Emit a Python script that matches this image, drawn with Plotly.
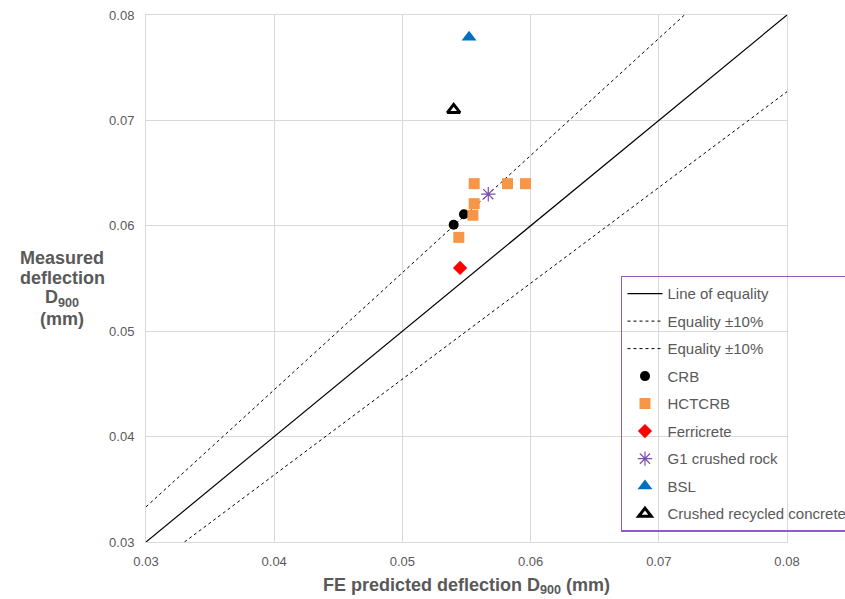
import plotly.graph_objects as go

# Measured vs FE-predicted D900 deflection (mm), grouped by base material
crb_fe = [0.0540, 0.0548]
crb_meas = [0.0601, 0.0611]

hctcrb_fe = [0.0556, 0.0582, 0.0596, 0.0556, 0.0555, 0.0544]
hctcrb_meas = [0.0640, 0.0640, 0.0640, 0.0621, 0.0610, 0.0589]

ferricrete_fe = [0.0545]
ferricrete_meas = [0.0560]

g1_fe = [0.0567]
g1_meas = [0.0630]

bsl_fe = [0.0552]
bsl_meas = [0.0779]

recycled_fe = [0.0540]
recycled_meas = [0.0710]

axis_range = [0.03, 0.08]
tolerance = 0.10

y_title_lines = ["Measured", "deflection", "D<sub>900</sub>", "(mm)"]

FONT = "Liberation Sans Narrow, Arial Narrow, Liberation Sans, Arial, sans-serif"
BOLD_FONT = "Liberation Sans, Arial, sans-serif"
GREY = "#595959"

fig = go.Figure()

# reference lines
fig.add_trace(go.Scatter(
    x=axis_range, y=axis_range, mode="lines",
    line=dict(color="black", width=1.2), name="Line of equality",
    legendgroup="g1"))
fig.add_trace(go.Scatter(
    x=axis_range, y=[v / (1 - tolerance) for v in axis_range], mode="lines",
    line=dict(color="black", width=1, dash="3px,3px"), name="Equality \u00b110%",
    legendgroup="g2"))
fig.add_trace(go.Scatter(
    x=axis_range, y=[v / (1 + tolerance) for v in axis_range], mode="lines",
    line=dict(color="black", width=1, dash="3px,3px"), name="Equality \u00b110%",
    legendgroup="g3"))

# material groups
fig.add_trace(go.Scatter(
    x=crb_fe, y=crb_meas, mode="markers", name="CRB", legendgroup="g4",
    marker=dict(symbol="circle", size=10, color="black")))
fig.add_trace(go.Scatter(
    x=hctcrb_fe, y=hctcrb_meas, mode="markers", name="HCTCRB", legendgroup="g5",
    marker=dict(symbol="square", size=11, color="#F79646")))
fig.add_trace(go.Scatter(
    x=ferricrete_fe, y=ferricrete_meas, mode="markers", name="Ferricrete", legendgroup="g6",
    marker=dict(symbol="diamond", size=11, color="#FF0000")))
fig.add_trace(go.Scatter(
    x=g1_fe, y=g1_meas, mode="markers", name="G1 crushed rock", legendgroup="g7",
    marker=dict(symbol="asterisk-open", size=12, color="#7B4FB0",
                line=dict(color="#7B4FB0", width=1.2))))
fig.add_trace(go.Scatter(
    x=bsl_fe, y=bsl_meas, mode="markers", name="BSL", legendgroup="g8",
    marker=dict(symbol="triangle-up", size=13, color="#0070C0")))
fig.add_trace(go.Scatter(
    x=recycled_fe, y=recycled_meas, mode="markers", name="Crushed recycled concrete",
    legendgroup="g9",
    marker=dict(symbol="triangle-up-open", size=11, color="black",
                line=dict(color="black", width=3))))

axis_common = dict(
    range=axis_range, dtick=0.01, tickformat=".2f",
    showgrid=True, gridcolor="#D9D9D9", gridwidth=1,
    showline=True, linecolor="#D9D9D9", linewidth=1, mirror=True,
    zeroline=False, ticks="",
    tickfont=dict(family=FONT, size=13, color=GREY),
)

fig.update_xaxes(**axis_common, ticklabelstandoff=7,
                 title=dict(text="FE predicted deflection D<sub>900</sub> (mm)",
                            font=dict(family=BOLD_FONT, size=18, color=GREY, weight="bold"),
                            standoff=10))
fig.update_yaxes(**axis_common, ticklabelstandoff=8)

# horizontal, stacked y-axis title
y_title_px = [258, 278, 298, 319]
plot_top, plot_bottom = 15, 542
for line, py in zip(y_title_lines, y_title_px):
    fig.add_annotation(
        text=f"<b>{line}</b>",
        xref="paper", yref="paper",
        x=-0.131, y=(plot_bottom - py) / (plot_bottom - plot_top),
        xanchor="center", yanchor="middle", showarrow=False,
        font=dict(family=BOLD_FONT, size=18, color=GREY))

fig.update_layout(
    width=845, height=599,
    margin=dict(l=146, r=58, t=15, b=57, autoexpand=False),
    paper_bgcolor="white", plot_bgcolor="white",
    showlegend=True,
    legend=dict(
        x=0.741, y=0.505, xanchor="left", yanchor="top",
        bgcolor="rgba(0,0,0,0)", bordercolor="#8E5BC8", borderwidth=1.5,
        font=dict(family=FONT, size=15, color=GREY),
        tracegroupgap=5, itemwidth=35,
    ),
)

fig.write_html("out.html")
